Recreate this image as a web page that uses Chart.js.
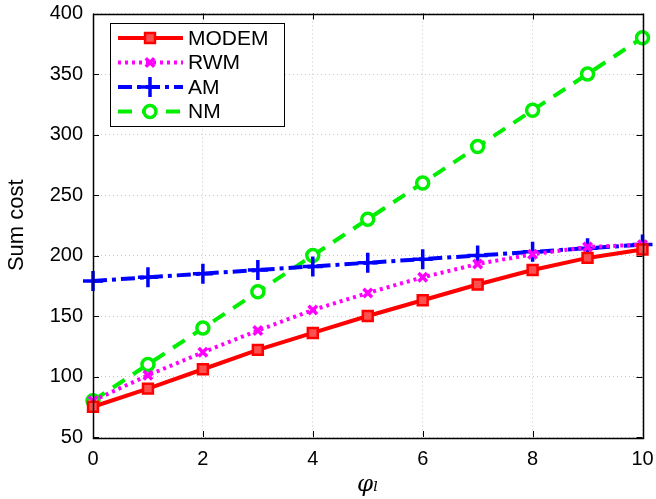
<!DOCTYPE html>
<html>
<head>
<meta charset="utf-8">
<script src="https://cdn.jsdelivr.net/npm/chart.js@4/dist/chart.umd.min.js"></script>
<style>
  html, body { margin: 0; padding: 0; background: #fff; }
  #wrap { width: 656px; height: 499px; }
</style>
</head>
<body>
<div id="wrap"><canvas id="chart" width="656" height="499"></canvas></div>
<script>
  'use strict';

  var phi = [0, 1, 2, 3, 4, 5, 6, 7, 8, 9, 10];
  var modem = [75, 90, 106, 122, 136, 150, 163, 176, 188, 198, 205];
  var rwm = [80, 101, 120, 138, 155, 169, 182, 193, 201, 207, 209];
  var am = [179, 182, 185, 188, 191, 194, 197, 200, 203, 206, 209];
  var nm = [80, 110, 140, 170, 200, 230, 260, 290, 320, 350, 380];
  var seriesNames = ['MODEM', 'RWM', 'AM', 'NM'];
  var xTicks = [0, 2, 4, 6, 8, 10];
  var yTicks = [50, 100, 150, 200, 250, 300, 350, 400];

  var font = 'Liberation Sans, Arial, Helvetica, sans-serif';

  function pts(ys) {
    return ys.map(function (y, i) { return { x: phi[i], y: y }; });
  }

  // inward ticks, full box and a MATLAB-like legend
  var boxPlugin = {
    id: 'boxPlugin',
    afterDraw: function (chart) {
      var c = chart.ctx, a = chart.chartArea;
      var xs = chart.scales.x, ys = chart.scales.y;
      c.save();
      c.strokeStyle = '#000';
      c.lineWidth = 1;
      c.beginPath();
      xTicks.forEach(function (t) {
        var px = Math.round(xs.getPixelForValue(t)) + 0.5;
        c.moveTo(px, a.bottom); c.lineTo(px, a.bottom - 6);
        c.moveTo(px, a.top); c.lineTo(px, a.top + 6);
      });
      yTicks.forEach(function (t) {
        var py = Math.round(ys.getPixelForValue(t)) + 0.5;
        c.moveTo(a.left, py); c.lineTo(a.left + 6, py);
        c.moveTo(a.right, py); c.lineTo(a.right - 6, py);
      });
      c.stroke();
      c.lineWidth = 1.5;
      c.strokeRect(Math.round(a.left) + 0.5, Math.round(a.top) + 0.5,
        Math.round(a.right - a.left), Math.round(a.bottom - a.top));

      // legend
      var lx = 110, ly = 23, lw = 174, lh = 103;
      c.fillStyle = '#fff';
      c.fillRect(lx, ly, lw, lh);
      c.lineWidth = 1;
      c.strokeRect(lx + 0.5, ly + 0.5, lw, lh);
      chart.data.datasets.forEach(function (ds, i) {
        var yy = ly + 15 + i * 24.5;
        c.save();
        c.strokeStyle = ds.borderColor;
        c.lineWidth = ds.borderWidth;
        c.setLineDash(ds.borderDash || []);
        c.beginPath();
        c.moveTo(lx + 8, yy); c.lineTo(lx + 73, yy);
        c.stroke();
        c.restore();
        c.save();
        c.strokeStyle = ds.pointBorderColor;
        c.fillStyle = ds.pointBackgroundColor;
        c.lineWidth = ds.pointBorderWidth;
        Chart.helpers.drawPoint(c, {
          pointStyle: ds.pointStyle, radius: ds.pointRadius,
          borderWidth: ds.pointBorderWidth, rotation: 0
        }, lx + 40, yy);
        c.restore();
        c.fillStyle = '#000';
        c.font = '21px ' + font;
        c.textBaseline = 'middle';
        c.fillText(ds.label, lx + 78, yy + 1);
      });
      c.restore();
    }
  };

  var ctx = document.getElementById('chart');
  var chart = new Chart(ctx, {
    type: 'line',
    data: {
      datasets: [{
        label: seriesNames[0],
        data: pts(modem),
        borderColor: '#ff0000',
        borderWidth: 4,
        pointStyle: 'rect',
        pointRadius: 7,
        pointBorderWidth: 2.5,
        pointBorderColor: '#ff0000',
        pointBackgroundColor: '#ff5050'
      }, {
        label: seriesNames[1],
        data: pts(rwm),
        borderColor: '#ff00ff',
        borderWidth: 4,
        borderDash: [3, 4],
        pointStyle: 'crossRot',
        pointRadius: 6,
        pointBorderWidth: 3.5,
        pointBorderColor: '#ff00ff',
        pointBackgroundColor: '#ff00ff'
      }, {
        label: seriesNames[2],
        data: pts(am),
        borderColor: '#0000ff',
        borderWidth: 4,
        borderDash: [14, 5, 4, 5],
        pointStyle: 'cross',
        pointRadius: 10,
        pointBorderWidth: 3.5,
        pointBorderColor: '#0000ff',
        pointBackgroundColor: '#0000ff'
      }, {
        label: seriesNames[3],
        data: pts(nm),
        borderColor: '#00ee00',
        borderWidth: 4,
        borderDash: [14, 10],
        pointStyle: 'circle',
        pointRadius: 6,
        pointBorderWidth: 3.5,
        pointBorderColor: '#00ee00',
        pointBackgroundColor: '#ffffff'
      }]
    },
    options: {
      responsive: false,
      animation: false,
      clip: false,
      layout: { padding: { top: 10, right: 13, left: 0, bottom: 0 } },
      plugins: {
        legend: { display: false },
        tooltip: { enabled: false }
      },
      scales: {
        x: {
          type: 'linear',
          min: 0, max: 10,
          afterBuildTicks: function (s) { s.ticks = xTicks.map(function (v) { return { value: v }; }); },
          afterFit: function (s) { s.height = 62; s.paddingLeft = 0; s.paddingRight = 0; },
          grid: { color: '#c8c8c8', drawTicks: false },
          border: { display: false, dash: [1, 3] },
          ticks: { color: '#000', padding: 10, maxRotation: 0, font: { family: font, size: 20 } },
          title: {
            display: true, text: 'φₗ', color: '#000', padding: { top: 0, bottom: 0 },
            font: { family: 'DejaVu Serif, serif', size: 23, style: 'italic' }
          }
        },
        y: {
          min: 50, max: 400,
          afterBuildTicks: function (s) { s.ticks = yTicks.map(function (v) { return { value: v }; }); },
          afterFit: function (s) { s.width = 93; s.paddingTop = 0; s.paddingBottom = 0; },
          grid: { color: '#c8c8c8', drawTicks: false },
          border: { display: false, dash: [1, 3] },
          ticks: { color: '#000', padding: 10, font: { family: font, size: 20 } },
          title: {
            display: true, text: 'Sum cost', color: '#000', padding: { top: 4, bottom: 2 },
            font: { family: font, size: 22 }
          }
        }
      }
    },
    plugins: [boxPlugin]
  });
</script>
</body>
</html>
